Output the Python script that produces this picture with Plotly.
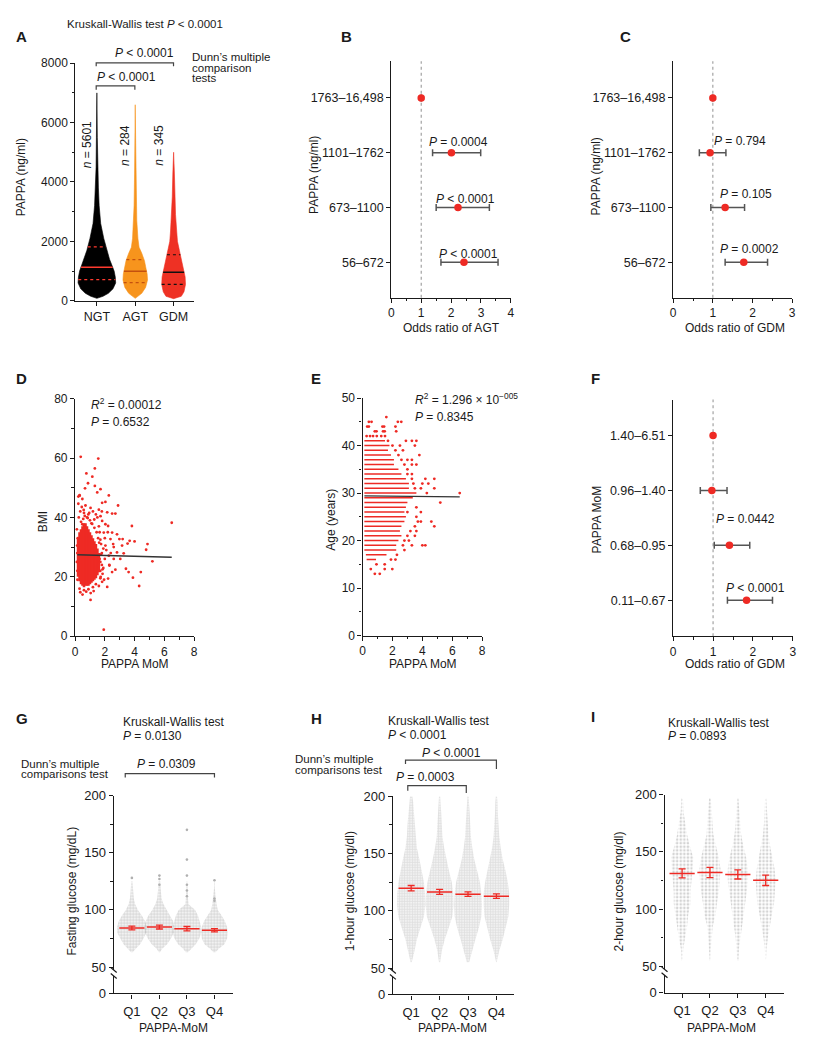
import numpy as np
import plotly.graph_objects as go

W, H = 813, 1050
FONT = "Liberation Sans, Arial, Helvetica, sans-serif"
INK = "#1a1a1a"
RED = "#ee2a24"
BAR = "#555555"

# ---- A: PAPPA (ng/ml) per group, violin outlines
groups_a = ["NGT", "AGT", "GDM"]
n_a = ["5601", "284", "345"]
fill_a = ["#000000", "#f7941d", "#ee3124"]
qline_a = ["#ff3b2f", "#c4500e", "#111111"]
ngt_levels = [80, 150, 250, 400, 600, 800, 1000, 1200, 1400, 1700, 2100, 2600, 3200, 3800, 4500, 5500, 7000]
ngt_width = [0.0, 0.16, 0.30, 0.42, 0.49, 0.48, 0.45, 0.39, 0.33, 0.26, 0.18, 0.10, 0.06, 0.04, 0.02, 0.012, 0.0]
agt_levels = [80, 250, 450, 700, 900, 1150, 1350, 1600, 1800, 2100, 2700, 3200, 4300, 5500, 6600]
agt_width = [0.0, 0.17, 0.27, 0.32, 0.31, 0.27, 0.24, 0.17, 0.10, 0.07, 0.04, 0.03, 0.017, 0.01, 0.0]
gdm_levels = [70, 150, 300, 550, 800, 1050, 1250, 1450, 1700, 2000, 2350, 2900, 3500, 4300, 5000]
gdm_width = [0.0, 0.20, 0.27, 0.31, 0.30, 0.26, 0.21, 0.19, 0.15, 0.10, 0.08, 0.05, 0.035, 0.02, 0.0]
quartiles_a = [[708, 1128, 1814], [608, 995, 1383], [553, 962, 1549]]

# ---- B, C, F: odds ratios with 95% CI
bins_pappa = ["1763–16,498", "1101–1762", "673–1100", "56–672"]
or_agt = [1.0, 2.01, 2.23, 2.43]
or_agt_lo = [1.0, 1.38, 1.50, 1.66]
or_agt_hi = [1.0, 2.99, 3.28, 3.57]
or_gdm = [1.0, 0.93, 1.31, 1.78]
or_gdm_lo = [1.0, 0.66, 0.95, 1.31]
or_gdm_hi = [1.0, 1.33, 1.80, 2.38]
bins_mom = ["1.40–6.51", "0.96–1.40", "0.68–0.95", "0.11–0.67"]
or_mom = [1.0, 0.97, 1.41, 1.84]
or_mom_lo = [1.0, 0.68, 1.03, 1.36]
or_mom_hi = [1.0, 1.35, 1.92, 2.49]

# ---- D: BMI vs PAPPA MoM (dense core as column ranges + single points)
d_core_x = [0.2, 0.3, 0.4, 0.5, 0.6, 0.7, 0.8, 0.9, 1.0, 1.1, 1.2, 1.3, 1.4, 1.5, 1.6]
d_core_lo = [20.0, 18.5, 17.5, 17.0, 16.5, 17.0, 17.0, 17.0, 17.5, 18.0, 18.5, 19.0, 19.5, 20.5, 21.5]
d_core_hi = [33.0, 35.0, 36.0, 37.0, 38.0, 38.0, 37.0, 36.0, 35.0, 34.0, 33.0, 32.0, 31.0, 29.5, 28.0]
d_pts_x = [0.38, 1.56, 1.33, 0.76, 1.16, 0.87, 1.33, 1.71, 0.67, 1.49, 0.31, 2.27, 0.49, 1.82, 2.04,
           2.89, 0.22, 1.04, 1.6, 2.49, 2.71, 2.16, 0.6, 3.82, 6.5, 1.82, 2.04, 2.49, 2.82, 2.98,
           3.2, 3.67, 4.0, 4.87, 3.53, 3.16, 2.56, 4.78, 2.82, 3.27, 2.27, 3.04, 5.2, 3.42, 2.71,
           3.6, 2.49, 4.42, 3.89, 4.31, 2.16, 1.6, 1.04, 1.93, 2.22, 1.82, 2.31, 2.6, 2.04, 2.38,
           1.93, 2.22, 1.71, 0.89, 1.29, 0.49, 1.7, 1.8, 1.9, 2.0, 1.75, 2.1, 2.3, 1.65, 1.85,
           2.0, 2.4, 2.6, 1.95, 1.7, 2.2, 1.6, 1.5, 1.8, 0.25, 0.35, 0.45, 0.7, 1.2, 1.4,
           0.3, 0.6, 0.9, 1.2, 1.4, 0.15, 0.15, 0.18, 1.65, 1.7, 1.55, 0.22, 0.3,
           0.4, 0.55, 0.8, 1.0, 1.1, 0.65, 0.95, 1.3,
           0.12, 0.14, 0.12, 0.16, 1.75, 1.8, 1.7, 1.9, 1.85, 1.72, 0.35, 0.5, 0.75, 1.05, 1.25,
           1.45, 1.62, 0.85, 1.15, 0.58]
d_pts_y = [60.4, 59.8, 56.5, 54.8, 53.7, 51.5, 50.6, 49.5, 49.8, 48.4, 47.3, 47.4, 46.2, 44.9, 45.2,
           44.0, 44.6, 43.2, 42.6, 41.3, 41.3, 41.7, 41.5, 37.1, 38.2, 38.8, 37.7, 34.9, 34.3, 32.7,
           32.7, 32.1, 31.9, 31.0, 31.2, 30.5, 31.0, 29.1, 28.2, 27.9, 27.1, 26.0, 25.2, 22.7, 22.4,
           21.6, 21.6, 21.6, 19.7, 16.9, 16.6, 16.9, 12.2, 2.2, 19.4, 18.3, 23.8, 26.0, 30.5, 32.7,
           34.9, 37.1, 40.4, 41.0, 39.3, 37.7, 25.0, 28.0, 23.0, 26.0, 31.0, 29.0, 24.0, 35.0, 21.0,
           33.0, 28.0, 30.0, 19.0, 22.0, 35.0, 37.0, 40.0, 42.0, 40.0, 42.0, 43.5, 44.0, 42.0, 41.0,
           16.0, 15.5, 15.8, 16.5, 17.5, 22.0, 28.0, 33.0, 26.0, 19.5, 33.0, 47.0, 47.5,
           38.5, 39.5, 40.0, 39.0, 38.0, 40.5, 41.5, 36.5,
           25.0, 30.5, 36.0, 19.0, 27.5, 24.0, 32.5, 29.5, 22.5, 20.0, 14.8, 14.0, 15.0, 14.5, 15.2,
           35.0, 31.5, 39.8, 37.8, 42.5]
d_fit_x = [0.15, 6.5]
d_fit_y = [27.4, 26.6]

# ---- E: age vs PAPPA MoM (integer ages: dense rows + single points)
e_row_age = [16, 17, 18, 19, 20, 21, 22, 23, 24, 25, 26, 27, 28, 29, 30, 31, 32, 33, 34, 35, 36, 37, 38, 39, 40, 41]
e_row_min = [0.27, 0.22, 0.12, 0.12, 0.12, 0.12, 0.12, 0.12, 0.12, 0.12, 0.12, 0.12, 0.12,
             0.12, 0.12, 0.12, 0.12, 0.12, 0.12, 0.12, 0.12, 0.12, 0.12, 0.12, 0.12, 0.12]
e_row_max = [0.9, 1.6, 2.25, 2.25, 2.4, 2.6, 2.5, 2.6, 2.8, 2.9, 2.8, 2.9, 3.0, 3.36, 3.6, 3.1,
             3.1, 2.9, 2.6, 2.4, 2.1, 2.1, 1.9, 1.7, 1.8, 1.5]
e_out_age = [13, 13, 14, 14, 14, 15, 15, 16, 16, 17, 18, 19, 19, 19, 19, 20, 20, 21, 21, 22, 22,
             23, 23, 24, 24, 24, 25, 26, 26, 27, 28, 30, 30, 31, 31, 31, 32, 32, 32, 33, 33, 33,
             34, 34, 35, 36, 36, 36, 37, 37, 37, 38, 38, 39, 39, 40, 40, 40, 41, 41, 41, 41, 42,
             42, 42, 42, 42, 42, 43, 43, 43, 43, 43, 44, 44, 44, 44, 44, 45, 45, 45, 45, 46]
e_out_x = [0.82, 1.15, 0.55, 1.48, 1.99, 0.93, 1.48, 1.9, 2.2, 2.3, 2.8, 2.7, 3.3, 4.0, 4.2, 2.8,
           3.1, 3.0, 3.5, 3.2, 3.6, 3.5, 4.8, 3.7, 3.9, 4.6, 3.6, 3.0, 3.9, 3.6, 5.2, 4.3, 6.5,
           3.5, 3.9, 4.8, 3.4, 4.0, 4.4, 3.3, 4.2, 4.8, 3.0, 3.3, 3.0, 2.8, 3.3, 3.6, 2.6, 3.0,
           3.3, 2.4, 3.8, 2.2, 2.7, 2.0, 2.5, 3.5, 1.7, 2.9, 3.3, 3.6, 0.27, 0.5, 0.7, 0.95, 1.25,
           1.5, 0.82, 0.93, 1.37, 1.48, 2.25, 0.31, 0.42, 1.33, 1.44, 2.2, 0.42, 0.6, 2.36, 2.59, 1.59]
e_fit_x = [0.12, 6.5]
e_fit_y = [29.4, 29.2]

# ---- G, H, I: glucose by PAPPA-MoM quartile (swarm outlines, mean and 95% CI)
quartiles = ["Q1", "Q2", "Q3", "Q4"]
g_levels = [63, 66, 70, 75, 80, 85, 90, 95, 100, 105, 110, 115, 120, 125]
g_width = [[0.03, 0.14, 0.30, 0.42, 0.53, 0.54, 0.48, 0.36, 0.22, 0.12, 0.07, 0.05, 0.03, 0.02],
           [0.02, 0.10, 0.28, 0.42, 0.52, 0.54, 0.50, 0.40, 0.26, 0.15, 0.08, 0.05, 0.04, 0.03],
           [0.04, 0.14, 0.32, 0.45, 0.52, 0.52, 0.46, 0.40, 0.30, 0.06, 0.04, 0.02, 0.02, 0.01],
           [0.04, 0.16, 0.36, 0.46, 0.48, 0.46, 0.38, 0.26, 0.12, 0.08, 0.05, 0.02, 0.01, 0.01]]
g_extra_q = [0, 1, 1, 1, 2, 2, 2, 2, 2, 2, 3, 3, 3]
g_extra_y = [128, 122, 127, 130, 170, 144, 130, 122, 117, 112, 126, 110, 108]
g_mean = [84.2, 85.0, 83.6, 82.2]
g_ci = [1.6, 1.7, 1.9, 1.5]

h_levels = [55, 65, 75, 85, 95, 105, 115, 125, 135, 145, 155, 165, 175, 185, 195, 200]
h_width = [[0.02, 0.12, 0.20, 0.33, 0.45, 0.50, 0.49, 0.45, 0.38, 0.29, 0.20, 0.15, 0.13, 0.10, 0.07, 0.04],
           [0.02, 0.08, 0.18, 0.32, 0.45, 0.49, 0.48, 0.43, 0.33, 0.24, 0.16, 0.10, 0.08, 0.06, 0.04, 0.02],
           [0.04, 0.14, 0.26, 0.38, 0.47, 0.49, 0.47, 0.42, 0.32, 0.22, 0.15, 0.10, 0.08, 0.06, 0.04, 0.02],
           [0.01, 0.10, 0.22, 0.33, 0.42, 0.45, 0.45, 0.40, 0.32, 0.22, 0.15, 0.10, 0.07, 0.05, 0.04, 0.02]]
h_mean = [119.7, 116.5, 114.5, 112.8]
h_ci = [2.4, 2.2, 2.0, 1.9]

i_levels = [55, 65, 75, 85, 95, 105, 115, 125, 135, 145, 155, 165, 175, 185, 197]
i_width = [[0.02, 0.04, 0.12, 0.18, 0.22, 0.30, 0.30, 0.34, 0.38, 0.40, 0.28, 0.18, 0.12, 0.05, 0.03],
           [0.01, 0.03, 0.06, 0.10, 0.20, 0.25, 0.32, 0.36, 0.38, 0.32, 0.22, 0.12, 0.10, 0.06, 0.03],
           [0.02, 0.04, 0.08, 0.14, 0.20, 0.26, 0.32, 0.36, 0.36, 0.30, 0.20, 0.12, 0.08, 0.05, 0.02],
           [0.01, 0.03, 0.08, 0.14, 0.22, 0.30, 0.34, 0.36, 0.32, 0.24, 0.16, 0.10, 0.06, 0.04, 0.02]]
i_mean = [131.2, 132.0, 130.3, 125.1]
i_ci = [4.0, 4.5, 4.0, 4.5]


fig = go.Figure()
ann = []
shapes = []


def text(s, x, y, size=12, anchor="center", angle=0, bold=False):
    """place a label at pixel position (x, y) of the page"""
    if bold:
        s = "<b>" + s + "</b>"
    ann.append(dict(text=s, x=x / W, y=1 - y / H, xref="paper", yref="paper", showarrow=False,
                    xanchor=anchor, yanchor="middle", textangle=angle,
                    font=dict(family=FONT, size=size, color=INK)))


def bracket(x0, x1, ytop, yl, yr):
    path = "M {},{} L {},{} L {},{} L {},{}".format(
        x0 / W, 1 - yl / H, x0 / W, 1 - ytop / H, x1 / W, 1 - ytop / H, x1 / W, 1 - yr / H)
    shapes.append(dict(type="path", path=path, xref="paper", yref="paper",
                       line=dict(color="#444444", width=1.2)))


def axis_break(ax_x, y_up, y_low):
    for yy in (y_up, y_low):
        shapes.append(dict(type="line", xref="paper", yref="paper",
                           x0=(ax_x - 3) / W, x1=(ax_x + 3) / W,
                           y0=1 - (yy - 2.5) / H, y1=1 - (yy + 2.5) / H,
                           line=dict(color=INK, width=1.2)))


# A violins
for i, (lev, wid) in enumerate([(ngt_levels, ngt_width), (agt_levels, agt_width), (gdm_levels, gdm_width)]):
    xs = [i - w for w in wid] + [i + w for w in wid[::-1]]
    ys = list(lev) + list(lev[::-1])
    fig.add_trace(go.Scatter(x=xs, y=ys, mode="lines", fill="toself", fillcolor=fill_a[i],
                             line=dict(color=fill_a[i], width=0.6), xaxis="x", yaxis="y"))
    for k, q in enumerate(quartiles_a[i]):
        w = float(np.interp(q, lev, wid))
        fig.add_trace(go.Scatter(x=[i - w, i + w], y=[q, q], mode="lines",
                                 line=dict(color=qline_a[i], width=1.4 if k == 1 else 1.2,
                                           dash="solid" if k == 1 else "dot"),
                                 xaxis="x", yaxis="y"))

# forest plots
cat_y = [3, 2, 1, 0]
for ax, (orv, lo, hi) in zip(["2", "3", "6"], [(or_agt, or_agt_lo, or_agt_hi),
                                             (or_gdm, or_gdm_lo, or_gdm_hi),
                                             (or_mom, or_mom_lo, or_mom_hi)]):
    shapes.append(dict(type="line", xref="x" + ax, yref="y" + ax + " domain", x0=1, x1=1, y0=0, y1=1,
                       line=dict(color="#9a9a9a", width=1.1, dash="dot"), layer="below"))
    fig.add_trace(go.Scatter(
        x=orv, y=cat_y, mode="markers", marker=dict(color=RED, size=7.5),
        error_x=dict(type="data", symmetric=False,
                     array=[h - o for h, o in zip(hi, orv)],
                     arrayminus=[o - l for o, l in zip(orv, lo)],
                     color=BAR, thickness=1.5, width=3.5),
        xaxis="x" + ax, yaxis="y" + ax))

# D scatter
core_x, core_y = [], []
for cx, lo, hi in zip(d_core_x, d_core_lo, d_core_hi):
    core_x += [cx, cx, None]
    core_y += [lo, hi, None]
fig.add_trace(go.Scatter(x=core_x, y=core_y, mode="lines", line=dict(color=RED, width=2.6),
                         xaxis="x4", yaxis="y4"))
fig.add_trace(go.Scatter(x=d_pts_x, y=d_pts_y, mode="markers", marker=dict(color=RED, size=2.8),
                         xaxis="x4", yaxis="y4"))
fig.add_trace(go.Scatter(x=d_fit_x, y=d_fit_y, mode="lines", line=dict(color="#333333", width=1.4),
                         xaxis="x4", yaxis="y4"))

# E scatter
row_x, row_y = [], []
for a, x0, x1 in zip(e_row_age, e_row_min, e_row_max):
    row_x += [x0, x1, None]
    row_y += [a, a, None]
fig.add_trace(go.Scatter(x=row_x, y=row_y, mode="lines", line=dict(color=RED, width=1.6),
                         xaxis="x5", yaxis="y5"))
fig.add_trace(go.Scatter(x=e_out_x, y=e_out_age, mode="markers", marker=dict(color=RED, size=2.8),
                         xaxis="x5", yaxis="y5"))
fig.add_trace(go.Scatter(x=e_fit_x, y=e_fit_y, mode="lines", line=dict(color="#333333", width=1.4),
                         xaxis="x5", yaxis="y5"))

# G, H, I swarms
swarm_style = {"7": dict(size=3, solidity=0.6, fg="#a6a6a6"),
               "8": dict(size=2.6, solidity=0.7, fg="#c0c0c0"),
               "9": dict(size=3.6, solidity=0.42, fg="#aaaaaa")}
for ax, lower, lev, widths, means, ci in [("7", "10", g_levels, g_width, g_mean, g_ci),
                                          ("8", "11", h_levels, h_width, h_mean, h_ci),
                                          ("9", "12", i_levels, i_width, i_mean, i_ci)]:
    st = swarm_style[ax]
    # empty trace so that the lower (broken) y segment gets its own subplot
    fig.add_trace(go.Scatter(x=[], y=[], mode="markers", xaxis="x" + ax, yaxis="y" + lower))
    for q, wid in enumerate(widths):
        xs = [q - w for w in wid] + [q + w for w in wid[::-1]]
        ys = list(lev) + list(lev[::-1])
        fig.add_trace(go.Scatter(
            x=xs, y=ys, mode="lines", line=dict(width=0, color="rgba(0,0,0,0)"),
            fill="toself", fillcolor="rgba(255,255,255,0)",
            fillpattern=dict(shape=".", fgcolor=st["fg"], bgcolor="rgba(255,255,255,0)",
                             size=st["size"], solidity=st["solidity"]),
            xaxis="x" + ax, yaxis="y" + ax))
    if ax == "7":
        fig.add_trace(go.Scatter(x=g_extra_q, y=g_extra_y, mode="markers",
                                 marker=dict(color="#b0b0b0", size=2.6), xaxis="x7", yaxis="y7"))
    fig.add_trace(go.Scatter(
        x=[0, 1, 2, 3], y=means, mode="markers",
        marker=dict(symbol="line-ew", size=18, color=RED, line=dict(color=RED, width=1.5)),
        error_y=dict(type="data", array=ci, color=RED, thickness=1.3, width=3.5),
        xaxis="x" + ax, yaxis="y" + ax))

# ---- axes
axis_base = dict(showline=True, linecolor=INK, linewidth=1.3, ticks="outside", ticklen=4,
                 tickwidth=1.2, tickcolor=INK, showgrid=False, zeroline=False,
                 tickfont=dict(family=FONT, size=12, color=INK), fixedrange=True)


def minor(dt):
    return dict(ticks="outside", ticklen=2.5, tickwidth=1, tickcolor=INK, dtick=dt, showgrid=False)


def xax(a, b, rng, anchor, **kw):
    d = dict(axis_base)
    d.update(domain=[a / W, b / W], range=rng, anchor=anchor)
    d.update(kw)
    return d


def yax(top, bottom, rng, anchor, **kw):
    d = dict(axis_base)
    d.update(domain=[1 - bottom / H, 1 - top / H], range=rng, anchor=anchor)
    d.update(kw)
    return d


catfont = dict(family=FONT, size=12.5, color=INK)
qfont = dict(family=FONT, size=13, color=INK)
layout = dict(
    width=W, height=H, margin=dict(l=0, r=0, t=0, b=0, pad=0), autosize=False,
    paper_bgcolor="white", plot_bgcolor="white", showlegend=False,
    font=dict(family=FONT, size=12, color=INK),
    xaxis=xax(73, 193, [-0.56, 2.54], "y", tickvals=[0, 1, 2], ticktext=groups_a, tickfont=catfont),
    yaxis=yax(57, 298, [0, 8000], "x", dtick=2000, tickformat="d", minor=minor(1000)),
    xaxis2=xax(391.7, 512.3, [0, 4], "y2", dtick=1, minor=minor(0.5)),
    yaxis2=yax(55, 295, [-0.648, 3.671], "x2", tickvals=cat_y, ticktext=bins_pappa, tickfont=catfont),
    xaxis3=xax(676, 796, [0, 3], "y3", dtick=1, minor=minor(0.5)),
    yaxis3=yax(55, 295, [-0.648, 3.671], "x3", tickvals=cat_y, ticktext=bins_pappa, tickfont=catfont),
    xaxis4=xax(72.7, 192.7, [0, 8], "y4", dtick=2, minor=minor(1)),
    yaxis4=yax(397.3, 638.3, [0, 80], "x4", dtick=20, minor=minor(10)),
    xaxis5=xax(362.7, 483.3, [0, 8], "y5", dtick=2, minor=minor(1)),
    yaxis5=yax(396.7, 637.7, [0, 50], "x5", dtick=10, minor=minor(5)),
    xaxis6=xax(676, 796.7, [0, 3], "y6", dtick=1, minor=minor(0.5)),
    yaxis6=yax(398.3, 638.3, [-0.657, 3.654], "x6", tickvals=cat_y, ticktext=bins_mom, tickfont=catfont),
    xaxis7=xax(111.7, 231.7, [-0.659, 3.663], "y10", tickvals=[0, 1, 2, 3], ticktext=quartiles,
               tickfont=qfont, ticklabelstandoff=2),
    yaxis7=yax(800, 977, [47.4, 200], "x7", tickvals=[50, 100, 150, 200], minor=minor(25), tickfont=qfont),
    yaxis10=yax(983, 1000.7, [0, 15], "x7", tickvals=[0], tickfont=qfont),
    xaxis8=xax(393.3, 515, [-0.642, 3.603], "y11", tickvals=[0, 1, 2, 3], ticktext=quartiles,
               tickfont=qfont, ticklabelstandoff=2),
    yaxis8=yax(800.7, 978, [47.4, 200], "x8", tickvals=[50, 100, 150, 200], minor=minor(25), tickfont=qfont),
    yaxis11=yax(984, 1001.7, [0, 15], "x8", tickvals=[0], tickfont=qfont),
    xaxis9=xax(667.3, 787.3, [-0.63, 3.64], "y12", tickvals=[0, 1, 2, 3], ticktext=quartiles,
               tickfont=qfont, ticklabelstandoff=2),
    yaxis9=yax(799, 976.3, [47.4, 200], "x9", tickvals=[50, 100, 150, 200], minor=minor(25), tickfont=qfont),
    yaxis12=yax(982.3, 1000, [0, 15], "x9", tickvals=[0], tickfont=qfont),
)

# ---- texts
# A
text("A", 19, 29.5, size=15, bold=True)
text("Kruskall-Wallis test <i>P</i> < 0.0001", 143, 17, size=11.5)
text("<i>P</i> < 0.0001", 143, 47)
text("<i>P</i> < 0.0001", 125, 71)
text("Dunn’s multiple", 189, 51.2, anchor="left", size=11.5)
text("comparison", 189, 62, anchor="left", size=11.5)
text("tests", 189, 72.5, anchor="left", size=11.5)
for x, n in zip([85, 123, 157], n_a):
    text("<i>n</i> = " + n, x, 140, angle=-90)
text("PAPPA (ng/ml)", 18, 173, angle=-90)
bracket(94, 172, 56.7, 60, 60)
bracket(94, 133, 80, 84, 84)
# B
text("B", 346, 30, size=15, bold=True)
text("PAPPA (ng/ml)", 313, 170, angle=-90)
text("Odds ratio of AGT", 452.5, 326)
text("<i>P</i> = 0.0004", 459, 137)
text("<i>P</i> < 0.0001", 466.7, 195)
text("<i>P</i> < 0.0001", 470, 250.7)
# C
text("C", 628, 30, size=15, bold=True)
text("PAPPA (ng/ml)", 598, 172, angle=-90)
text("Odds ratio of GDM", 738, 326)
text("<i>P</i> = 0.794", 743, 136)
text("<i>P</i> = 0.105", 749, 190)
text("<i>P</i> = 0.0002", 753, 246)
# D
text("D", 19, 377, size=15, bold=True)
text("<i>R</i><sup>2</sup> = 0.00012", 87, 403, anchor="left")
text("<i>P</i> = 0.6532", 87, 421, anchor="left")
text("BMI", 40, 522, angle=-90)
text("PAPPA MoM", 133, 667)
# E
text("E", 316, 377, size=15, bold=True)
text("<i>R</i><sup>2</sup> = 1.296 × 10<sup>−005</sup>", 414, 398, anchor="left")
text("<i>P</i> = 0.8345", 414, 416, anchor="left")
text("Age (years)", 330, 520, angle=-90)
text("PAPPA MoM", 423.3, 667)
# F
text("F", 597.7, 377, size=15, bold=True)
text("PAPPA MoM", 599, 520, angle=-90)
text("Odds ratio of GDM", 738, 667)
text("<i>P</i> = 0.0442", 749, 519)
text("<i>P</i> < 0.0001", 759, 589)
# G
text("G", 19, 722, size=15, bold=True)
text("Kruskall-Wallis test", 119, 725, anchor="left")
text("<i>P</i> = 0.0130", 119, 740, anchor="left")
text("Dunn’s multiple", 16, 767.5, anchor="left", size=11.5)
text("comparisons test", 16, 778.5, anchor="left", size=11.5)
text("<i>P</i> = 0.0309", 165, 768)
bracket(123.3, 213.3, 777.7, 781.7, 781.7)
text("Fasting glucose (mg/dL)", 70, 897, angle=-90)
text("PAPPA-MoM", 171.7, 1036)
axis_break(111.7, 977, 983)
# H
text("H", 316, 722, size=15, bold=True)
text("Kruskall-Wallis test", 386.7, 724, anchor="left")
text("<i>P</i> < 0.0001", 386.7, 739, anchor="left")
text("Dunn’s multiple", 293, 762.5, anchor="left", size=11.5)
text("comparisons test", 293, 774.5, anchor="left", size=11.5)
text("<i>P</i> < 0.0001", 452.7, 757)
bracket(406, 497.7, 764, 768, 773)
text("<i>P</i> = 0.0003", 426, 780.7)
bracket(408.3, 467.3, 790, 795, 797.3)
text("1-hour glucose (mg/dl)", 350, 897, angle=-90)
text("PAPPA-MoM", 453, 1036)
axis_break(393.3, 978, 984)
# I
text("I", 594.7, 720, size=15, bold=True)
text("Kruskall-Wallis test", 669, 726, anchor="left")
text("<i>P</i> = 0.0893", 669, 740, anchor="left")
text("2-hour glucose (mg/dl)", 621.7, 897, angle=-90)
text("PAPPA-MoM", 725, 1036)
axis_break(667.3, 976.3, 982.3)

layout["annotations"] = ann
layout["shapes"] = shapes
fig.update_layout(**layout)
fig.update_traces(hoverinfo="skip")

fig.write_html("out.html", config={"displayModeBar": False},
               post_script="document.body.style.margin='0';")
